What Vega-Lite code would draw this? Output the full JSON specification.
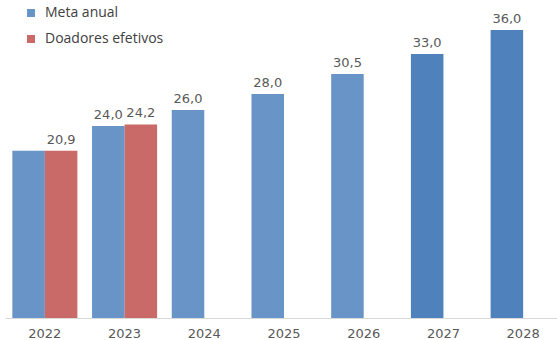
{
  "$schema": "https://vega.github.io/schema/vega-lite/v6.json",
  "width": 558,
  "height": 288,
  "autosize": {"type": "none"},
  "padding": {"left": 5, "top": 30, "right": 0, "bottom": 22},
  "background": "white",
  "config": {
    "view": {"stroke": null},
    "locale": {"number": {"decimal": ",", "thousands": ".", "grouping": [3], "currency": ["", " €"]}}
  },
  "data": {
    "values": [
      {"ano": "2022", "serie": "Meta anual", "valor": 20.9, "fase": "anterior", "rotulo": false},
      {"ano": "2022", "serie": "Doadores efetivos", "valor": 20.9, "fase": "anterior", "rotulo": true},
      {"ano": "2023", "serie": "Meta anual", "valor": 24.0, "fase": "anterior", "rotulo": true},
      {"ano": "2023", "serie": "Doadores efetivos", "valor": 24.2, "fase": "anterior", "rotulo": true},
      {"ano": "2024", "serie": "Meta anual", "valor": 26.0, "fase": "anterior", "rotulo": true},
      {"ano": "2025", "serie": "Meta anual", "valor": 28.0, "fase": "anterior", "rotulo": true},
      {"ano": "2026", "serie": "Meta anual", "valor": 30.5, "fase": "anterior", "rotulo": true},
      {"ano": "2027", "serie": "Meta anual", "valor": 33.0, "fase": "futuro", "rotulo": true},
      {"ano": "2028", "serie": "Meta anual", "valor": 36.0, "fase": "futuro", "rotulo": true}
    ]
  },
  "encoding": {
    "x": {
      "field": "ano", "type": "nominal",
      "scale": {"paddingInner": 0.184, "paddingOuter": 0.092},
      "axis": {
        "title": null, "labelAngle": 0, "ticks": false, "domainColor": "#d9d9d9", "domainWidth": 1,
        "labelFont": "DejaVu Sans", "labelFontSize": 13, "labelColor": "#595959", "labelPadding": 9
      }
    },
    "xOffset": {"field": "serie", "type": "nominal", "scale": {"domain": ["Meta anual", "Doadores efetivos"], "paddingInner": 0}},
    "y": {"field": "valor", "type": "quantitative", "scale": {"domain": [0, 36], "nice": false}, "axis": null}
  },
  "layer": [
    {
      "mark": {"type": "bar"},
      "encoding": {
        "color": {
          "field": "serie", "type": "nominal",
          "scale": {"domain": ["Meta anual", "Doadores efetivos"], "range": ["#4f81bd", "#c0504d"]},
          "legend": {
            "title": null, "orient": "none", "legendX": 19, "legendY": -24,
            "symbolType": "square", "symbolSize": 64, "symbolOpacity": 0.85, "symbolStrokeWidth": 0,
            "labelFont": "Open Sans", "labelFontSize": 14, "labelColor": "#404040",
            "rowPadding": 12, "labelOffset": 7
          }
        },
        "opacity": {
          "field": "fase", "type": "nominal",
          "scale": {"domain": ["anterior", "futuro"], "range": [0.85, 1]},
          "legend": null
        }
      }
    },
    {
      "transform": [{"filter": "datum.rotulo"}],
      "mark": {"type": "text", "baseline": "alphabetic", "dy": -7, "font": "DejaVu Sans", "fontSize": 13, "color": "#595959"},
      "encoding": {
        "text": {"field": "valor", "type": "quantitative", "format": ".1f"}
      }
    }
  ]
}
